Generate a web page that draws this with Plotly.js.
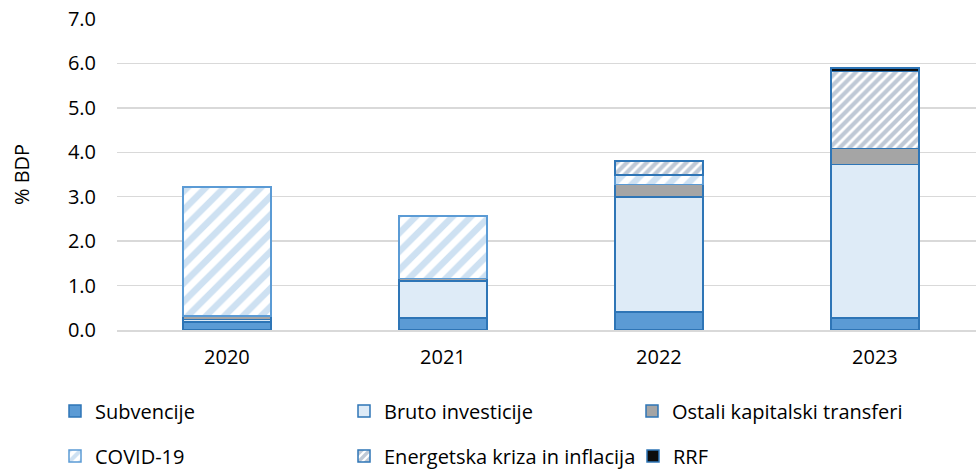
<!DOCTYPE html>
<html>
<head>
<meta charset="utf-8">
<script src="https://cdn.plot.ly/plotly-3.0.1.min.js"></script>
<style>html,body{margin:0;padding:0;background:#fff}#chart{width:976px;height:472px}</style>
</head>
<body>
<div id="chart"></div>
<script>
const years = ['2020', '2021', '2022', '2023'];
const subvencije = [0.18, 0.27, 0.41, 0.27];
const brutoInvesticije = [0.06, 0.83, 2.58, 3.46];
const ostaliTransferi = [0.07, 0.06, 0.28, 0.35];
const covid19 = [2.91, 1.41, 0.22, null];
const energetskaKriza = [null, null, 0.30, 1.74];
const rrf = [null, null, 0.02, 0.08];
const yTicks = [0, 1, 2, 3, 4, 5, 6, 7];

const FONT = '"Open Sans", sans-serif';
const FS = 20;
const edge = '#2E75B6';

// legend slot positions (container fraction) for each series
const legendSlots = [
  {x: 55 / 976, y: 61 / 472},
  {x: 344 / 976, y: 61 / 472},
  {x: 632 / 976, y: 61 / 472},
  {x: 55 / 976, y: 16 / 472},
  {x: 344 / 976, y: 16 / 472},
  {x: 633 / 976, y: 16 / 472}
];
const legendIds = ['legend', 'legend2', 'legend3', 'legend4', 'legend5', 'legend6'];

function bar(i, name, y, fill, line, pattern) {
  const m = {color: fill, line: {color: line, width: 1.5}};
  if (pattern) m.pattern = pattern;
  return {type: 'bar', name: name, x: years, y: y, marker: m, legend: legendIds[i], hoverinfo: 'y+name'};
}

const data = [
  bar(0, 'Subvencije', subvencije, '#5B9BD5', edge),
  bar(1, 'Bruto investicije', brutoInvesticije, '#DEEBF7', edge),
  bar(2, 'Ostali kapitalski transferi', ostaliTransferi, '#A5A5A5', edge),
  bar(3, 'COVID-19', covid19, '#FFFFFF', '#5B9BD5',
      {shape: '/', fgcolor: '#9DC3E6', bgcolor: '#FFFFFF', size: 13, solidity: 0.5, fillmode: 'overlay'}),
  bar(4, 'Energetska kriza in inflacija', energetskaKriza, '#FFFFFF', edge,
      {shape: '/', fgcolor: '#7F93AD', bgcolor: '#FFFFFF', size: 7, solidity: 0.6, fillmode: 'overlay'}),
  bar(5, 'RRF', rrf, '#0D0D0D', edge)
];

const layout = {
  width: 976, height: 472,
  margin: {l: 117, r: 0, t: 19, b: 142},
  paper_bgcolor: '#fff', plot_bgcolor: '#fff',
  barmode: 'stack', bargap: 0.593,
  font: {family: FONT, size: FS, color: '#000'},
  xaxis: {
    type: 'category', range: [-0.509, 3.468], showgrid: false, showline: true, linecolor: '#D9D9D9', linewidth: 1.5,
    ticks: '', ticklabelstandoff: 8, tickfont: {family: FONT, size: FS, color: '#000'}
  },
  yaxis: {
    range: [0, 7], tickvals: yTicks, tickformat: '.1f', showgrid: true, gridcolor: '#D9D9D9', gridwidth: 1.5,
    zeroline: false, showline: false, ticks: '', ticklabelstandoff: 20,
    tickfont: {family: FONT, size: FS, color: '#000'},
    title: {text: '% BDP', font: {family: FONT, size: FS, color: '#000'}, standoff: 32}
  },
  showlegend: true
};
legendIds.forEach(function (id, i) {
  layout[id] = {
    orientation: 'h', xanchor: 'left', yanchor: 'middle', xref: 'container', yref: 'container',
    x: legendSlots[i].x, y: legendSlots[i].y,
    font: {family: FONT, size: FS, color: '#000'}, bgcolor: 'rgba(0,0,0,0)', borderwidth: 0
  };
});

Plotly.newPlot('chart', data, layout, {displayModeBar: false, staticPlot: true});
</script>
</body>
</html>
